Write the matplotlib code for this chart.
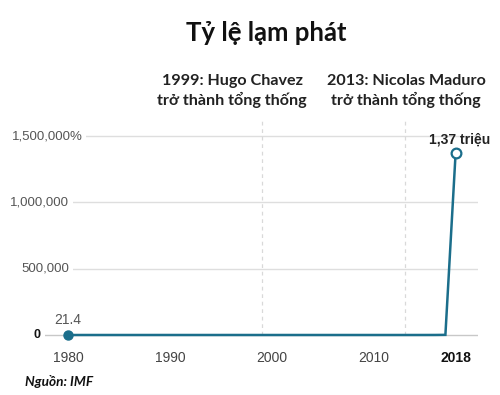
import matplotlib
matplotlib.use("Agg")
import matplotlib.pyplot as plt
import matplotlib.transforms as mtransforms

years = list(range(1980, 2019))
inflation = [21.4, 16.2, 9.7, 6.3, 12.2, 11.4, 11.5, 28.1, 29.5, 84.5,
             40.7, 34.2, 31.4, 38.1, 60.8, 59.9, 99.9, 50.0, 35.8, 23.6,
             16.2, 12.5, 22.4, 31.1, 21.7, 16.0, 13.7, 18.7, 31.4, 27.1,
             28.2, 26.1, 21.1, 40.6, 62.2, 121.7, 254.9, 1087.5, 1370000]
xticks = [1980, 1990, 2000, 2010, 2018]
xtick_labels = ["1980", "1990", "2000", "2010", "2018"]
yticks = [0, 500000, 1000000, 1500000]
ytick_labels = ["0", "500,000", "1,000,000", "1,500,000%"]
events = [1999, 2013]
event_labels = ["1999: Hugo Chavez\ntrở thành tổng thống",
                "2013: Nicolas Maduro\ntrở thành tổng thống"]
title = "Tỷ lệ lạm phát"
peak_label = "1,37 triệu"
start_label = "21.4"
source = "Nguồn: IMF"

LINE = "#1b6e8b"
W, H = 500, 395
fig = plt.figure(figsize=(5, 3.95), dpi=100)
ax = fig.add_axes([45 / W, 1 - 345 / H, (478 - 45) / W, (345 - 118) / H])
ax.set_xlim(1977.745, 2020.196)
ax.set_ylim(-75400, 1636000)
ax.axis("off")

# gridlines
for v in yticks:
    ax.axhline(v, color="#c8c8c8" if v == 0 else "#dedede", lw=1.0, zorder=1)

# event dashed lines
for e in events:
    ax.plot([e, e], [0, 1636000], color="#d9d9d9", lw=0.9, ls=(0, (3, 3)), zorder=1)

ax.plot(years, inflation, color=LINE, lw=1.8, zorder=3, solid_joinstyle="miter")
ax.plot([years[0]], [inflation[0]], "o", color=LINE, ms=6.5, zorder=4)
ax.plot([years[-1]], [inflation[-1]], "o", mfc="white", mec=LINE, mew=1.6, ms=7, zorder=4)

# y tick labels (with white backgrounds to break the gridlines)
trans = mtransforms.blended_transform_factory(fig.transFigure, ax.transData)
for v, lab in zip(yticks, ytick_labels):
    if v == 0:
        fig.text(41 / W, 0, lab, transform=trans, ha="right", va="center",
                 fontsize=9, fontweight="bold", color="#111111", family="Liberation Sans",
                 bbox=dict(fc="white", ec="none", pad=2.5), zorder=5)
    elif v == 1500000:
        fig.text(12 / W, v, lab, transform=trans, ha="left", va="center",
                 fontsize=9.5, color="#555555", family="Liberation Sans",
                 bbox=dict(fc="white", ec="none", pad=2.5), zorder=5)
    else:
        fig.text(69 / W, v, lab, transform=trans, ha="right", va="center",
                 fontsize=9.5, color="#555555", family="Liberation Sans",
                 bbox=dict(fc="white", ec="none", pad=3), zorder=5)

# x tick labels
xtrans = mtransforms.blended_transform_factory(ax.transData, fig.transFigure)
for t, lab in zip(xticks, xtick_labels):
    bold = t == 2018
    fig.text(t, 1 - 358 / H, lab, transform=xtrans, ha="center", va="center",
             fontsize=10, color="#111111" if bold else "#444444",
             fontweight="bold" if bold else "normal", family="Liberation Sans")

# labels on data
ax.annotate(start_label, (years[0], inflation[0]), xytext=(0, 11), textcoords="offset points",
            ha="center", va="center", fontsize=10, color="#555555", family="Liberation Sans")
ax.annotate(peak_label, (years[-1], inflation[-1]), xytext=(3, 10), textcoords="offset points",
            ha="center", va="center", fontsize=10, fontweight="bold", color="#222222",
            family="Liberation Sans")

# event annotations
fig.text(232 / W, 1 - 91 / H, event_labels[0], ha="center", va="center", fontsize=11.6,
         fontweight="bold", color="#222222", family="Lato", linespacing=1.3)
fig.text(406 / W, 1 - 91 / H, event_labels[1], ha="center", va="center", fontsize=11.6,
         fontweight="bold", color="#222222", family="Lato", linespacing=1.3)

fig.text(266 / W, 1 - 33 / H, title, ha="center", va="center", fontsize=18.5,
         fontweight="bold", color="#111111", family="Lato")
fig.text(25 / W, 1 - 381 / H, source, ha="left", va="center", fontsize=9.8,
         fontweight="bold", style="italic", color="#111111", family="Lato")

fig.savefig("out.png", dpi=100, facecolor="white")
